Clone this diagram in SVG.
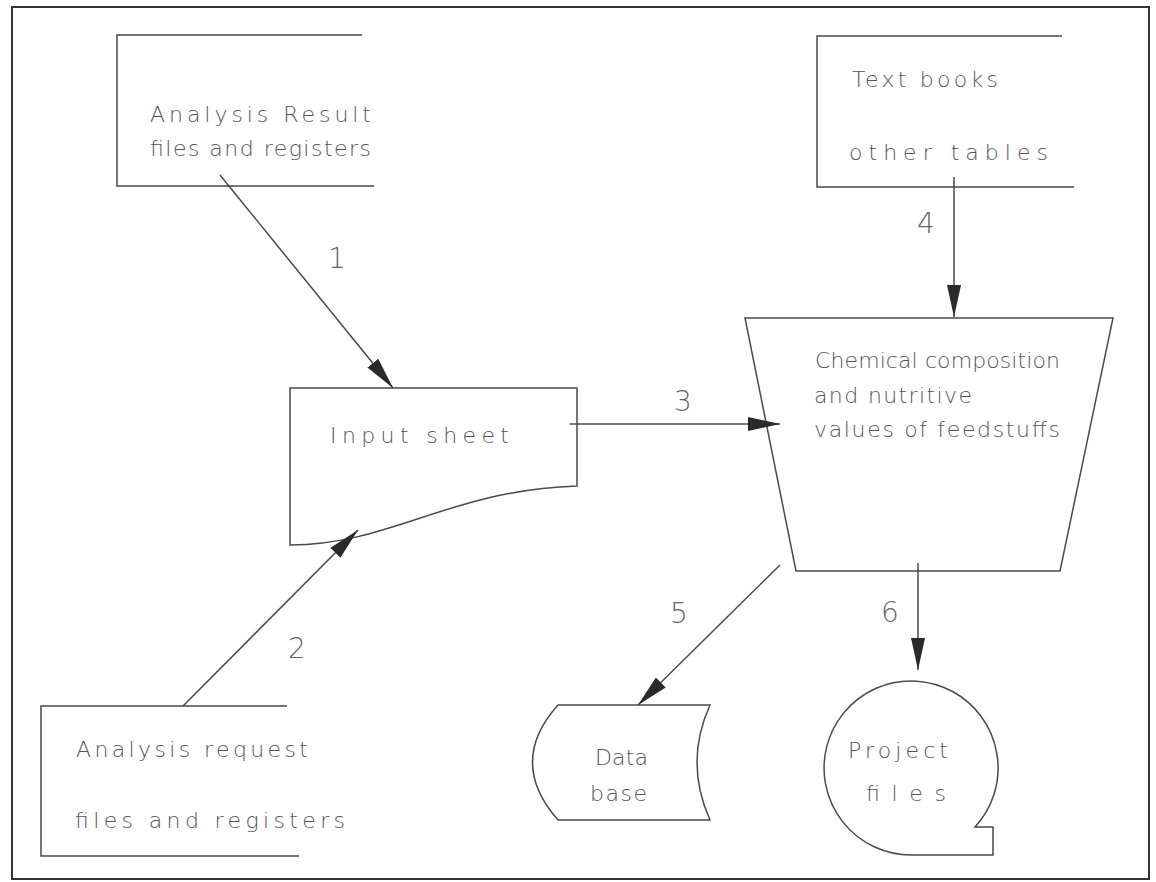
<svg xmlns="http://www.w3.org/2000/svg" width="1156" height="882" viewBox="0 0 1156 882">
<style>
.ln{fill:none;stroke:#4a4a4a;stroke-width:1.5}
.sh{fill:#fff;stroke:#4a4a4a;stroke-width:1.5}
.t{font-family:"DejaVu Sans","Liberation Sans",sans-serif;font-weight:200;fill:#555;font-size:22px}
.n{font-family:"DejaVu Sans","Liberation Sans",sans-serif;font-weight:200;fill:#666;font-size:28px}
</style>
<defs>
<marker id="ah" viewBox="0 0 32 14" refX="32" refY="7" markerWidth="32" markerHeight="14" markerUnits="userSpaceOnUse" orient="auto">
<path d="M0,0 L32,7 L0,14 Z" fill="#2a2a2a"/>
</marker>
</defs>
<rect width="1156" height="882" fill="#fff"/>
<rect x="12" y="7" width="1137" height="872" fill="none" stroke="#333" stroke-width="2"/>

<g id="analysis-result">
<path class="ln" d="M362,35 L117,35 L117,186 L374,186"/>
<text class="t" x="150" y="122" textLength="221" lengthAdjust="spacing">Analysis Result</text>
<text class="t" x="150" y="156" textLength="221" lengthAdjust="spacing">files and registers</text>
</g>

<g id="text-books">
<path class="ln" d="M1062,36 L817,36 L817,187 L1074,187"/>
<text class="t" x="852" y="87" textLength="146" lengthAdjust="spacing">Text books</text>
<text class="t" x="849" y="160" font-size="23" textLength="199" lengthAdjust="spacing">other tables</text>
</g>

<g id="input-sheet">
<path class="sh" d="M290,388 L577,388 L577,486 C450,490 390,545 290,545 Z"/>
<text class="t" x="330" y="443" font-size="26" textLength="179" lengthAdjust="spacing">Input sheet</text>
</g>

<g id="chemical">
<path class="sh" d="M745,318 L1113,318 L1060,571 L796,571 Z"/>
<text class="t" x="815" y="368" font-size="19" textLength="245" lengthAdjust="spacing">Chemical composition</text>
<text class="t" x="814" y="403" font-size="19" textLength="158" lengthAdjust="spacing">and nutritive</text>
<text class="t" x="814" y="437" font-size="19" textLength="246" lengthAdjust="spacing">values of feedstuffs</text>
</g>

<g id="analysis-request">
<path class="ln" d="M287,706 L41,706 L41,856 L299,856"/>
<text class="t" x="76" y="757" textLength="232" lengthAdjust="spacing">Analysis request</text>
<text class="t" x="75" y="828" textLength="270" lengthAdjust="spacing">files and registers</text>
</g>

<g id="database">
<path class="sh" d="M558,705 L710,705 Q684,762 710,820 L558,820 Q507,762 558,705 Z"/>
<text class="t" x="595" y="765" font-size="19" textLength="53" lengthAdjust="spacing">Data</text>
<text class="t" x="590" y="801" font-size="19" textLength="57" lengthAdjust="spacing">base</text>
</g>

<g id="project-files">
<path class="sh" d="M911,855 A87,87 0 1 1 975,827 L993,827 L993,855 Z"/>
<text class="t" x="848" y="758" font-size="21" textLength="100" lengthAdjust="spacing">Project</text>
<text class="t" x="866" y="801" font-size="21" textLength="80" lengthAdjust="spacing">files</text>
</g>

<g id="connectors">
<line class="ln" x1="220" y1="175" x2="393" y2="388" marker-end="url(#ah)"/>
<line class="ln" x1="183" y1="706" x2="358" y2="530" marker-end="url(#ah)"/>
<line class="ln" x1="570" y1="424" x2="780" y2="424" marker-end="url(#ah)"/>
<line class="ln" x1="954" y1="177" x2="954" y2="317" marker-end="url(#ah)"/>
<line class="ln" x1="780" y1="565" x2="638" y2="705" marker-end="url(#ah)"/>
<line class="ln" x1="918" y1="563" x2="918" y2="670" marker-end="url(#ah)"/>
<text class="n" x="328" y="268">1</text>
<text class="n" x="288" y="658">2</text>
<text class="n" x="674" y="411">3</text>
<text class="n" x="917" y="233">4</text>
<text class="n" x="670" y="623">5</text>
<text class="n" x="881" y="622">6</text>
</g>
</svg>
